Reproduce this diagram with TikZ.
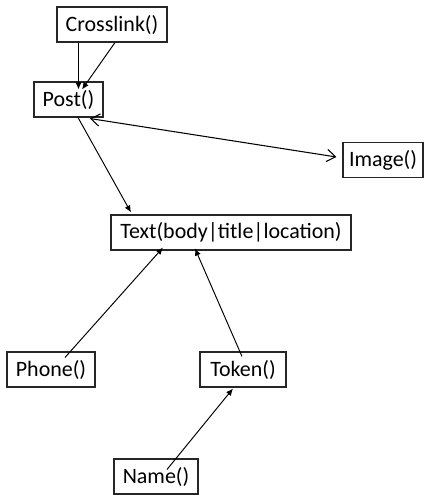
\documentclass[tikz,border=0pt]{standalone}
\usepackage{fontspec}
\setmainfont{Carlito}
\usetikzlibrary{arrows.meta,calc}
\begin{document}
\begin{tikzpicture}[x=0.02cm,y=-0.02cm,
        box/.style={draw=black!85,line width=0.6pt,minimum height=0.7cm,inner sep=0pt,font=\fontsize{12.5}{15}\selectfont},
        link/.style={line width=0.55pt,-{Latex[length=4pt,width=3.5pt]}},
        both/.style={line width=0.6pt,{Straight Barb[length=5pt,width=7pt]}-{Straight Barb[length=5pt,width=7pt]}}]
        \useasboundingbox (0,0) rectangle (425,495);
        \node[box,minimum width=2.2cm] (crosslink) at (112,24.5) {Crosslink()};
        \node[box,minimum width=1.38cm] (post) at (68.5,99.5) {Post()};
        \node[box,minimum width=1.6cm] (image) at (383,160) {Image()};
        \node[box,minimum width=4.8cm] (text) at (231,232.5) {Text(body|title|location)};
        \node[box,minimum width=1.76cm] (phone) at (51,369.5) {Phone()};
        \node[box,minimum width=1.72cm] (token) at (243,369.5) {Token()};
        \node[box,minimum width=1.68cm] (name) at (156,476.5) {Name()};
        \draw[link] ($(crosslink.south)+(-33.5,0)$) -- ($(post.north)+(10,8)$);
        \draw[link] ($(crosslink.south)+(3,0)$) -- ($(post.north)+(13.5,8)$);
        \draw[both] ($(post.south)+(21.5,1)$) -- ($(image.west)+(-6,-3)$);
        \draw[link] ($(post.south)+(9.5,0)$) -- ($(text.north)+(-100,-2)$);
        \draw[link] ($(phone.north)+(14,6)$) -- ($(text.south)+(-68,-3)$);
        \draw[link] ($(token.north)+(-1,5)$) -- ($(text.south)+(-36,-2)$);
        \draw[link] ($(name.north)+(11,11)$) -- ($(token.south)+(-10,1)$);
    \end{tikzpicture}
\end{document}
